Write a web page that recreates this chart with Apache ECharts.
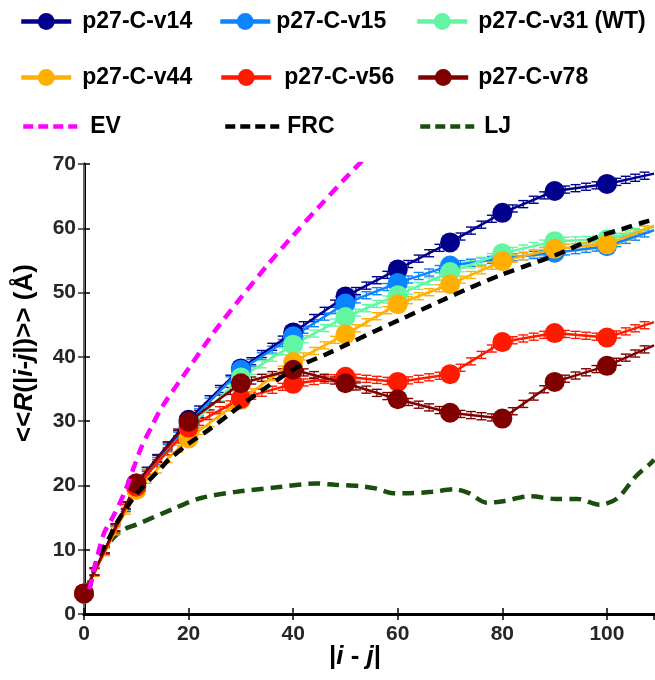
<!DOCTYPE html>
<html><head><meta charset="utf-8">
<script src="https://cdn.jsdelivr.net/npm/echarts@6/dist/echarts.min.js"></script>
<style>html,body{margin:0;padding:0;background:#fff}#c{width:655px;height:680px}</style>
</head><body><div id="c"></div>
<script>
// ---- data ----
const markerX = [0, 10, 20, 30, 40, 50, 60, 70, 80, 90, 100, 109];
const v14 = [3.2, 20.3, 30.2, 38.2, 43.8, 49.4, 53.6, 57.8, 62.4, 65.8, 66.9, 68.5];
const v15 = [3.2, 19.9, 29.7, 38.0, 43.2, 48.3, 51.5, 54.2, 55.3, 56.2, 57.2, 59.7];
const v31 = [3.2, 19.8, 29.0, 36.8, 41.9, 46.2, 49.6, 53.2, 56.1, 58.0, 58.3, 60.2];
const v44 = [3.2, 19.3, 27.3, 33.3, 39.2, 43.5, 48.2, 51.3, 54.9, 56.8, 57.5, 60.4];
const v56 = [3.2, 19.8, 29.0, 33.5, 35.8, 36.9, 36.1, 37.3, 42.3, 43.7, 43.0, 45.4];
const v78 = [3.2, 20.3, 29.9, 35.9, 38.0, 35.9, 33.4, 31.3, 30.4, 36.1, 38.6, 41.8];
const errHalf = [0.55, 0.55, 0.55, 0.55, 0.55, 0.55];

const evX = [1, 3.7, 5.6, 7.8, 11, 12.9, 15, 20, 25, 30, 35, 40, 45, 50, 55];
const evY = [3.8, 12.3, 15.2, 19.0, 26.0, 29.1, 32.3, 38.2, 44.0, 49.2, 54.2, 58.9, 63.4, 67.8, 72.0];
const frcX = [1, 2.5, 4.6, 6.2, 8.7, 10.7, 14.5, 16.2, 20, 24.1, 28, 33, 40.6, 46, 50.2, 55.9, 60.2, 68.5, 74, 79.9, 85, 90.1, 98.3, 103, 106.9, 109];
const frcY = [3.8, 8.5, 11.5, 14.1, 17.2, 19.3, 22.5, 24.0, 26.5, 28.8, 31.2, 34.2, 38.3, 40.3, 41.9, 44.1, 45.7, 48.8, 50.8, 52.8, 54.3, 55.8, 58.7, 59.9, 60.9, 61.4];
const ljX = [0.2, 2.1, 4.3, 6.2, 8, 10, 16.6, 22.2, 29.1, 36.8, 44.4, 48, 52.7, 56, 59, 62, 66.6, 70.8, 73.6, 77, 79.8, 85.4, 90.2, 94.4, 98.6, 102, 105.5, 108.3, 109];
const ljY = [3.5, 6.9, 10.5, 12.3, 13.3, 13.9, 16.2, 18.0, 19.0, 19.7, 20.3, 20.1, 19.9, 19.5, 18.8, 18.8, 19.0, 19.4, 18.8, 17.3, 17.5, 18.3, 17.9, 17.9, 17.0, 18.0, 21.4, 23.4, 24.0];

const seriesNames = ['p27-C-v14', 'p27-C-v15', 'p27-C-v31 (WT)', 'p27-C-v44', 'p27-C-v56', 'p27-C-v78'];
const seriesVals = [v14, v15, v31, v44, v56, v78];
const seriesColors = ['#00008c', '#0a84ff', '#62f5a2', '#ffaf00', '#ff1a00', '#800000'];

const FONT = 'Liberation Sans, Arial, sans-serif';

function pts(xs, ys) { return xs.map((x, i) => [x, ys[i]]); }

function errBarSeries(k) {
  const P = pts(markerX, seriesVals[k]);
  const color = seriesColors[k];
  const err = errHalf[k];
  return {
    type: 'custom', silent: true, clip: true, z: 2,
    data: P,
    renderItem(params, api) {
      const i = params.dataIndex;
      if (i >= P.length - 1) return null;
      const p0 = api.coord(P[i]), p1 = api.coord(P[i + 1]);
      const h = api.size([0, err])[1];
      const n = Math.max(1, Math.round((P[i + 1][0] - P[i][0]) / 2));
      const ch = [];
      for (let s = 0; s < n; s++) {
        const t = s / n;
        const cx = p0[0] + (p1[0] - p0[0]) * t, cy = p0[1] + (p1[1] - p0[1]) * t;
        ch.push({ type: 'line', shape: { x1: cx, y1: cy - h, x2: cx, y2: cy + h }, style: { stroke: color, lineWidth: 1.2 } });
        ch.push({ type: 'line', shape: { x1: cx - 5, y1: cy - h, x2: cx + 5, y2: cy - h }, style: { stroke: color, lineWidth: 1.4 } });
        ch.push({ type: 'line', shape: { x1: cx - 5, y1: cy + h, x2: cx + 5, y2: cy + h }, style: { stroke: color, lineWidth: 1.4 } });
      }
      return { type: 'group', children: ch };
    }
  };
}

const series = [];
series.push({
  name: 'LJ', type: 'line', data: pts(ljX, ljY), smooth: 0.3, symbol: 'none', z: 1,
  lineStyle: { color: '#1b4d0f', width: 4.5, type: [12, 7] }, itemStyle: { color: '#1b4d0f' }
});
for (let k = 0; k < 6; k++) series.push(errBarSeries(k));
for (let k = 0; k < 6; k++) {
  const d = seriesVals[k].map((v, i) => {
    const o = { value: [markerX[i], v] };
    if (markerX[i] % 10 !== 0) o.symbol = 'none';
    return o;
  });
  series.push({
    name: seriesNames[k], type: 'line', data: d, symbol: 'circle', symbolSize: 20, z: 3,
    showAllSymbol: true,
    lineStyle: { color: seriesColors[k], width: 2.5 }, itemStyle: { color: seriesColors[k] }
  });
}
series.push({
  name: 'FRC', type: 'line', data: pts(frcX, frcY), smooth: 0.3, symbol: 'none', z: 4,
  lineStyle: { color: '#000', width: 4.5, type: [11, 7] }, itemStyle: { color: '#000' }
});
series.push({
  name: 'EV', type: 'line', data: pts(evX, evY), smooth: 0.3, symbol: 'none', z: 4,
  lineStyle: { color: '#ff00ff', width: 4.5, type: [11, 7] }, itemStyle: { color: '#ff00ff' }
});

function leg(name, left, cy, pad, dashed) {
  const o = {
    data: [name], left: left, top: cy - 11, itemWidth: dashed ? 54 : 50, itemHeight: 21,
    selectedMode: false, padding: 0,
    textStyle: { fontSize: 23, fontWeight: 'bold', fontFamily: FONT, color: '#000', padding: [0, 0, 0, pad] },
    lineStyle: { width: 4.5 }
  };
  if (dashed) { o.lineStyle.type = [10, 5]; o.itemStyle = { opacity: 0 }; }
  return o;
}

const axisLbl = { fontSize: 21, fontWeight: 'bold', fontFamily: FONT, color: '#262626' };
const option = {
  animation: false,
  backgroundColor: '#fff',
  grid: { left: 84, right: 1, top: 164, bottom: 66 },
  legend: [
    leg('p27-C-v14', 19, 21, 6), leg('p27-C-v15', 218, 21, 1), leg('p27-C-v31 (WT)', 415, 21, 6),
    leg('p27-C-v44', 19, 77, 6), leg('p27-C-v56', 219, 77, 8), leg('p27-C-v78', 416, 77, 5),
    leg('EV', 21, 126, 8, true), leg('FRC', 223, 126, 3, true), leg('LJ', 418, 126, 5, true)
  ],
  xAxis: [
    { type: 'value', min: 0, max: 109, interval: 20, position: 'bottom',
      axisLine: { lineStyle: { color: '#000', width: 3 } },
      axisTick: { inside: true, length: 6, lineStyle: { color: '#000', width: 1.5 } },
      axisLabel: Object.assign({ margin: 10, showMaxLabel: false }, axisLbl),
      splitLine: { show: false } },
    { type: 'value', min: 0, max: 109, interval: 20, position: 'top',
      axisLine: { lineStyle: { color: '#000', width: 3 } },
      axisTick: { inside: true, length: 6, lineStyle: { color: '#000', width: 1.5 } },
      axisLabel: { show: false }, splitLine: { show: false } }
  ],
  yAxis: [
    { type: 'value', min: 0, max: 70, interval: 10, position: 'left',
      axisLine: { lineStyle: { color: '#000', width: 3 } },
      axisTick: { inside: true, length: 6, lineStyle: { color: '#000', width: 1.5 } },
      axisLabel: Object.assign({ margin: 8 }, axisLbl),
      splitLine: { show: false } },
    { type: 'value', min: 0, max: 70, interval: 10, position: 'right',
      axisLine: { lineStyle: { color: '#888', width: 1.5 } },
      axisTick: { inside: true, length: 6, lineStyle: { color: '#333', width: 1.5 } },
      axisLabel: { show: false }, splitLine: { show: false } }
  ],
  graphic: [
    { type: 'text', x: 25, y: 353, rotation: Math.PI / 2,
      style: {
        text: '{a|<<}{b|R}{a|(|}{b|i}{a|-}{b|j}{a||)>> (Å)}',
        align: 'center', verticalAlign: 'middle',
        rich: {
          a: { fontSize: 26, fontWeight: 'bold', fontFamily: FONT, fill: '#000' },
          b: { fontSize: 26, fontWeight: 'bold', fontStyle: 'italic', fontFamily: FONT, fill: '#000' }
        }
      } },
    { type: 'text', x: 355, y: 657,
      style: {
        text: '{a||}{b|i}{a| - }{b|j}{a||}',
        align: 'center', verticalAlign: 'middle',
        rich: {
          a: { fontSize: 26, fontWeight: 'bold', fontFamily: FONT, fill: '#000' },
          b: { fontSize: 26, fontWeight: 'bold', fontStyle: 'italic', fontFamily: FONT, fill: '#000' }
        }
      } }
  ],
  series: series
};
const chart = echarts.init(document.getElementById('c'), null, { renderer: 'canvas' });
chart.setOption(option);
</script></body></html>
